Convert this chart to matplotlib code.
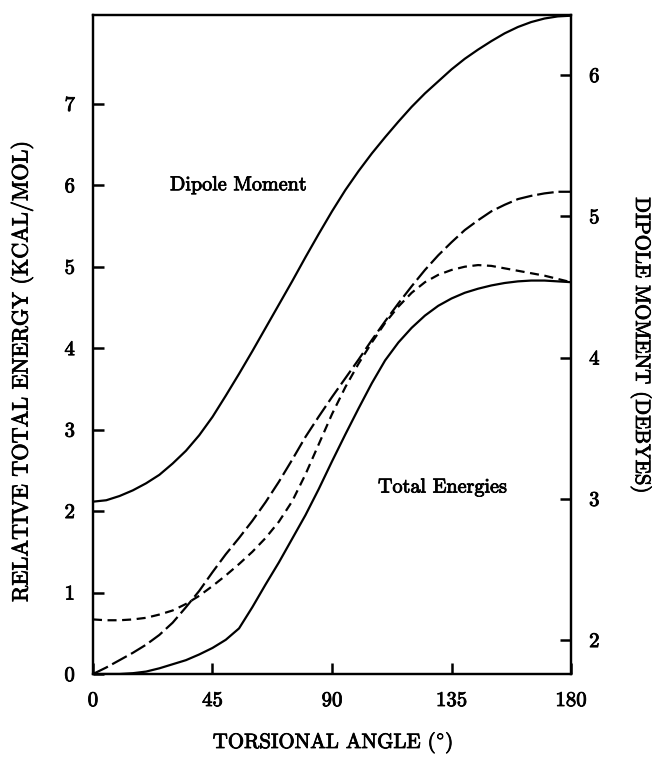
import matplotlib
matplotlib.use('Agg')
import matplotlib.pyplot as plt
import matplotlib.patheffects as pe

# torsional angle grid (degrees)
angle = [0, 5, 10, 15, 20, 25, 30, 35, 40, 45, 50, 55, 60, 65, 70, 75, 80, 85, 90,
         95, 100, 105, 110, 115, 120, 125, 130, 135, 140, 145, 150, 155, 160, 165,
         170, 175, 180]

# dipole moment (debyes), right axis
dipole = [2.98, 2.99, 3.02, 3.06, 3.11, 3.17, 3.25, 3.34, 3.45, 3.58, 3.73, 3.885,
          4.045, 4.21, 4.375, 4.54, 4.71, 4.875, 5.035, 5.185, 5.32, 5.445, 5.56, 5.67,
          5.775, 5.87, 5.955, 6.04, 6.115, 6.18, 6.24, 6.295, 6.34, 6.375, 6.40, 6.415, 6.42]

# relative total energies (kcal/mol), left axis
energy_long = [0.0, 0.08, 0.17, 0.26, 0.36, 0.48, 0.63, 0.82, 1.02, 1.25, 1.47, 1.67,
               1.88, 2.11, 2.36, 2.63, 2.91, 3.16, 3.40, 3.63, 3.86, 4.10, 4.33, 4.55,
               4.76, 4.96, 5.14, 5.30, 5.45, 5.57, 5.68, 5.76, 5.83, 5.87, 5.90, 5.92, 5.92]
energy_short = [0.67, 0.66, 0.66, 0.67, 0.69, 0.73, 0.78, 0.86, 0.96, 1.08, 1.21, 1.35,
                1.50, 1.67, 1.87, 2.12, 2.45, 2.82, 3.19, 3.52, 3.81, 4.07, 4.31, 4.51,
                4.68, 4.81, 4.90, 4.96, 5.00, 5.02, 5.01, 4.98, 4.95, 4.92, 4.89, 4.85, 4.81]
energy_solid = [0.0, 0.0, 0.0, 0.01, 0.03, 0.07, 0.12, 0.17, 0.24, 0.32, 0.42, 0.56,
                0.82, 1.10, 1.37, 1.66, 1.95, 2.27, 2.61, 2.94, 3.26, 3.57, 3.85, 4.07,
                4.25, 4.40, 4.52, 4.61, 4.68, 4.73, 4.77, 4.80, 4.82, 4.83, 4.83, 4.82, 4.81]

x_ticks = [0, 45, 90, 135, 180]
left_ticks = [0, 1, 2, 3, 4, 5, 6, 7]
right_ticks = [2, 3, 4, 5, 6]

plt.rcParams['font.family'] = ['cmr10', 'DejaVu Serif']
plt.rcParams['mathtext.fontset'] = 'cm'
plt.rcParams['lines.scale_dashes'] = False

# thicken the text a little, like the scanned original
bold = [pe.withStroke(linewidth=0.6, foreground='black')]

fig = plt.figure(figsize=(6.52, 7.61), dpi=100)
ax = fig.add_axes([0.1426, 0.1143, 0.7332, 0.866])
ax2 = ax.twinx()

lw = 1.6
ax.plot(angle, energy_long, color='black', lw=lw, dashes=(12, 3.5))
ax.plot(angle, energy_short, color='black', lw=lw, dashes=(6.5, 4))
ax.plot(angle, energy_solid, color='black', lw=lw)
ax2.plot(angle, dipole, color='black', lw=lw)

ax.set_xlim(0, 180)
ax.set_ylim(0, 8.09)
ax2.set_ylim(1.76, 6.425)

ax.set_xticks(x_ticks)
ax.set_yticks(left_ticks)
ax2.set_yticks(right_ticks)

for a in (ax, ax2):
    for s in a.spines.values():
        s.set_linewidth(1.6)
ax.tick_params(axis='both', direction='in', length=8, width=1.8, labelsize=15, pad=13)
ax.tick_params(axis='x', top=False)
ax2.tick_params(axis='y', direction='in', length=8, width=1.8, labelsize=15, pad=13)
for lab in ax.get_xticklabels() + ax.get_yticklabels() + ax2.get_yticklabels():
    lab.set_path_effects(bold)

# axis titles
fig.text(22 / 652, 1 - 371 / 761, 'RELATIVE TOTAL ENERGY (KCAL/MOL)', rotation=90,
         ha='center', va='center', fontsize=16, path_effects=bold)
fig.text(641 / 652, 1 - 345 / 761, 'DIPOLE MOMENT (DEBYES)', rotation=-90,
         ha='center', va='center', fontsize=15, path_effects=bold)
fig.text(333 / 652, 1 - 743 / 761, r'TORSIONAL ANGLE ($^{\circ}$)',
         ha='center', va='center', fontsize=15, path_effects=bold)

ax.text(29, 6.0, 'Dipole Moment', ha='left', va='center', fontsize=14.5, path_effects=bold)
ax.text(107.3, 2.29, 'Total Energies', ha='left', va='center', fontsize=14.5, path_effects=bold)

plt.savefig('out.png', dpi=100)
